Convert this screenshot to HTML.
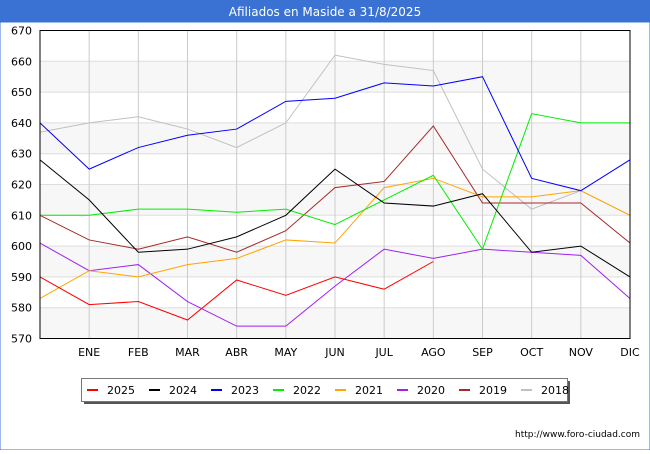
<!DOCTYPE html>
<html><head><meta charset="utf-8"><style>
body{margin:0;width:650px;height:450px;background:#fff;font-family:"DejaVu Sans","Liberation Sans",sans-serif;overflow:hidden}
svg text{font-family:"DejaVu Sans","Liberation Sans",sans-serif}
</style></head><body>
<svg id="c" width="650" height="450" xmlns="http://www.w3.org/2000/svg">
<rect x="0" y="0" width="650" height="22" fill="#3a72d4"/>
<text x="325" y="16" text-anchor="middle" font-size="12" fill="#fff">Afiliados en Maside a 31/8/2025</text>
<rect x="0" y="22" width="650" height="428" fill="none" stroke="#3a72d4" stroke-width="1"/>
<g id="grid"></g>
<g id="series"></g>
<rect x="40" y="30.5" width="590" height="308" fill="none" stroke="#000" stroke-width="1"/>
<g id="legend">
<rect x="84" y="381" width="486" height="23" fill="#555"/>
<rect x="81.5" y="378.5" width="486" height="23" fill="#fff" stroke="#777"/>
</g>
<text x="640" y="437" text-anchor="end" font-size="9" fill="#000">http://www.foro-ciudad.com</text>
</svg>
<script>
const months=["","ENE","FEB","MAR","ABR","MAY","JUN","JUL","AGO","SEP","OCT","NOV","DIC"];
const yTicks=[570,580,590,600,610,620,630,640,650,660,670];
const years=["2025","2024","2023","2022","2021","2020","2019","2018"];
const colors=["#ff0000","#000000","#0000ff","#00ee00","#ffa500","#a020f0","#a52a2a","#c0c0c0"];
const s2025=[590,581,582,576,589,584,590,586,595];
const s2024=[628,615,598,599,603,610,625,614,613,617,598,600,590];
const s2023=[640,625,632,636,638,647,648,653,652,655,622,618,628];
const s2022=[610,610,612,612,611,612,607,615,623,599,643,640,640];
const s2021=[583,592,590,594,596,602,601,619,622,616,616,618,610];
const s2020=[601,592,594,582,574,574,587,599,596,599,598,597,583];
const s2019=[610,602,599,603,598,605,619,621,639,614,614,614,601];
const s2018=[637,640,642,638,632,640,662,659,657,625,612,618,610];
const data=[s2025,s2024,s2023,s2022,s2021,s2020,s2019,s2018];
const NS="http://www.w3.org/2000/svg";
const X=i=>40+i*(590/12);
const Y=v=>338.5-(v-570)*3.08;
function mk(t,a,p){const e=document.createElementNS(NS,t);for(const k in a)e.setAttribute(k,a[k]);p.appendChild(e);return e;}
const g=document.getElementById('grid');
for(let i=0;i<yTicks.length-1;i++){if(i%2==0){const r=mk('rect',{x:40,y:Y(yTicks[i+1]),width:590,height:Y(yTicks[i])-Y(yTicks[i+1]),fill:'#f7f7f7'},g);

}}
yTicks.forEach(v=>{const l=mk('line',{x1:40,x2:630,y1:Y(v),y2:Y(v),stroke:'#ddd'},g);


const t=mk('text',{x:32,y:Y(v)+4,'text-anchor':'end','font-size':11,fill:'#000'},g);t.textContent=v;

});
months.forEach((m,i)=>{if(i==0)return;const l=mk('line',{x1:X(i),x2:X(i),y1:30.5,y2:338.5,stroke:'#ccc'},g);


const t=mk('text',{x:X(i),y:356,'text-anchor':'middle','font-size':11,fill:'#000'},g);t.textContent=m;

});
const s=document.getElementById('series');
for(let k=data.length-1;k>=0;k--){const pts=data[k].map((v,i)=>X(i)+','+Y(v)).join(' ');
const p=mk('polyline',{points:pts,fill:'none',stroke:colors[k],'stroke-width':1},s);

}
const lg=document.getElementById('legend');
years.forEach((y,i)=>{const x=87+i*62;const r=mk('rect',{x:x,y:389,width:11,height:2,fill:colors[i]},lg);


const t=mk('text',{x:x+20,y:394,'font-size':11,fill:'#000'},lg);t.textContent=y;

});
</script>
</body></html>
